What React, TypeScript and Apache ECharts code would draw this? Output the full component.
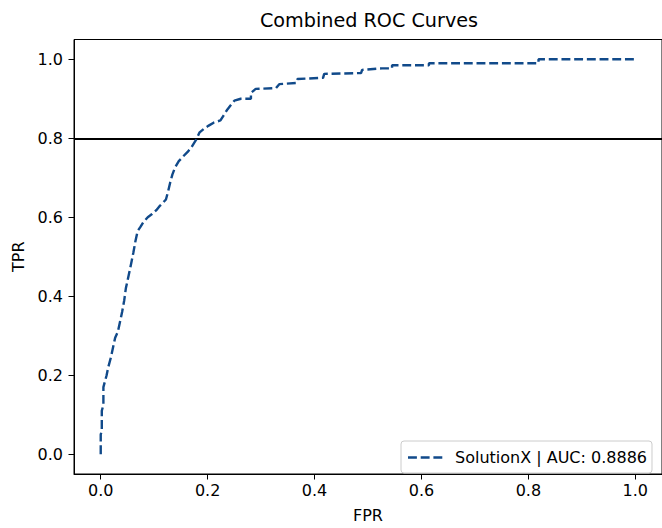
import React, { useEffect, useRef } from 'react';
import * as echarts from 'echarts';

const chartTitle = 'Combined ROC Curves';
const xName = 'FPR';
const yName = 'TPR';
const seriesName = 'SolutionX | AUC: 0.8886';
const thresholdTPR = 0.8;

const tickValues = [0, 0.2, 0.4, 0.6, 0.8, 1.0];
const tickLabels = ['0.0', '0.2', '0.4', '0.6', '0.8', '1.0'];

const fpr = [
  0, 0, 0.002, 0.002, 0.005, 0.005, 0.008, 0.011, 0.014, 0.019,
  0.023, 0.027, 0.032, 0.036, 0.040, 0.044, 0.047, 0.051, 0.055, 0.058,
  0.061, 0.065, 0.069, 0.074, 0.080, 0.088, 0.096, 0.104, 0.110, 0.116,
  0.122, 0.126, 0.130, 0.134, 0.139, 0.146, 0.155, 0.163, 0.170, 0.178,
  0.185, 0.194, 0.202, 0.212, 0.224, 0.230, 0.237, 0.244, 0.250, 0.262,
  0.281, 0.281, 0.290, 0.328, 0.334, 0.366, 0.368, 0.416, 0.418, 0.487,
  0.489, 0.526, 0.545, 0.545, 0.614, 0.614, 0.819, 0.819, 1.0,
];
const tpr = [
  0, 0.05, 0.06, 0.11, 0.125, 0.17, 0.185, 0.20, 0.22, 0.245,
  0.27, 0.295, 0.31, 0.335, 0.36, 0.39, 0.42, 0.445, 0.47, 0.49,
  0.51, 0.54, 0.565, 0.575, 0.588, 0.60, 0.608, 0.618, 0.628, 0.636,
  0.645, 0.665, 0.688, 0.708, 0.726, 0.742, 0.755, 0.766, 0.778, 0.795,
  0.815, 0.825, 0.832, 0.84, 0.845, 0.858, 0.873, 0.885, 0.895, 0.90,
  0.90, 0.915, 0.925, 0.927, 0.937, 0.94, 0.95, 0.953, 0.963, 0.965,
  0.973, 0.977, 0.977, 0.985, 0.985, 0.99, 0.99, 1.0, 1.0,
];

const FONT = 'DejaVu Sans';
const LINE_COLOR = '#114a8a';
const DASH = [8.9, 3.8];

const fmt = (v: number) => {
  const i = tickValues.findIndex((t) => Math.abs(t - v) < 1e-9);
  return i >= 0 ? tickLabels[i] : '';
};

export default function App() {
  const ref = useRef<HTMLDivElement>(null);
  useEffect(() => {
    if (!ref.current) return;
    const chart = echarts.init(ref.current, null, { renderer: 'svg' });
    const data = fpr.map((x, i) => [x, tpr[i]]);
    chart.setOption({
      animation: false,
      backgroundColor: '#fff',
      textStyle: { fontFamily: FONT },
      grid: {
        left: 74,
        top: 39.5,
        width: 590,
        height: 440,
        show: true,
        borderColor: '#000',
        borderWidth: 1,
        backgroundColor: 'transparent',
      },
      graphic: [
        {
          type: 'text',
          x: 369,
          y: 20,
          style: {
            text: chartTitle,
            fontFamily: FONT,
            fontSize: 19.2,
            fill: '#000',
            textAlign: 'center',
            textVerticalAlign: 'middle',
          },
        },
        {
          type: 'line',
          z: 100,
          shape: { x1: 408, y1: 457.5, x2: 443, y2: 457.5 },
          style: { stroke: LINE_COLOR, lineWidth: 2.4, lineDash: DASH },
        },
      ],
      legend: {
        show: true,
        left: 401,
        top: 441,
        orient: 'horizontal',
        padding: [8, 5, 8, 7],
        itemGap: 0,
        itemWidth: 35,
        itemHeight: 16,
        backgroundColor: '#fff',
        borderColor: '#cccccc',
        borderWidth: 1,
        borderRadius: 3,
        textStyle: { fontFamily: FONT, fontSize: 16, color: '#000', padding: [0, 0, 0, 7] },
        data: [{ name: seriesName, icon: 'none' }],
      },
      xAxis: {
        type: 'value',
        min: -0.05,
        max: 1.05,
        splitLine: { show: false },
        axisLine: { show: true, onZero: false, lineStyle: { color: '#000', width: 1 } },
        axisTick: { show: true, customValues: tickValues, length: 5.5, lineStyle: { color: '#000', width: 1 } },
        axisLabel: {
          customValues: tickValues,
          formatter: fmt,
          margin: 8,
          fontSize: 16,
          color: '#000',
          fontFamily: FONT,
        },
        name: xName,
        nameLocation: 'middle',
        nameGap: 33,
        nameTextStyle: { fontFamily: FONT, fontSize: 16, color: '#000' },
      },
      yAxis: {
        type: 'value',
        min: -0.05,
        max: 1.05,
        splitLine: { show: false },
        axisLine: { show: true, onZero: false, lineStyle: { color: '#000', width: 1 } },
        axisTick: { show: true, customValues: tickValues, length: 5.5, lineStyle: { color: '#000', width: 1 } },
        axisLabel: {
          customValues: tickValues,
          formatter: fmt,
          margin: 11,
          fontSize: 16,
          color: '#000',
          fontFamily: FONT,
        },
        name: yName,
        nameLocation: 'middle',
        nameGap: 48,
        nameRotate: 90,
        nameTextStyle: { fontFamily: FONT, fontSize: 16, color: '#000' },
      },
      series: [
        {
          name: seriesName,
          type: 'line',
          data,
          showSymbol: false,
          symbol: 'none',
          clip: true,
          lineStyle: { color: LINE_COLOR, width: 2.4, type: DASH },
          itemStyle: { color: LINE_COLOR },
          z: 3,
          markLine: {
            silent: true,
            symbol: ['none', 'none'],
            label: { show: false },
            lineStyle: { color: '#000', width: 2.2, type: 'solid' },
            data: [{ yAxis: thresholdTPR }],
            z: 2,
          },
        },
      ],
    });
    return () => chart.dispose();
  }, []);
  return (
    <div
      ref={ref}
      style={{ position: 'fixed', left: 0, top: 0, width: 662, height: 528, background: '#fff' }}
    />
  );
}
